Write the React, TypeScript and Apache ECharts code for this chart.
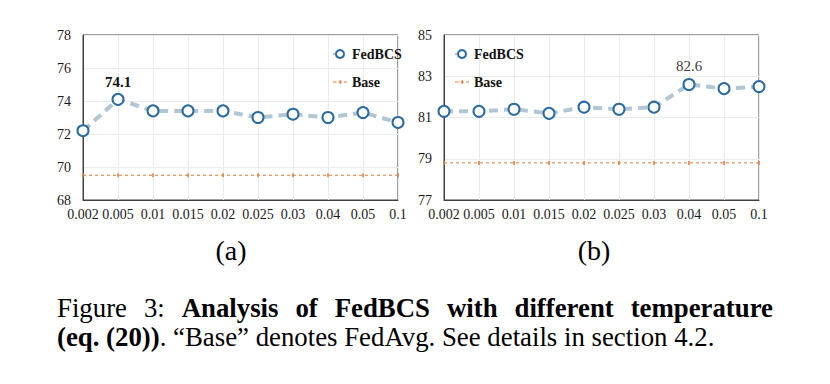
import React, { useEffect, useRef } from "react";
import * as echarts from "echarts";

const temperatures = ["0.002", "0.005", "0.01", "0.015", "0.02", "0.025", "0.03", "0.04", "0.05", "0.1"];
const fedbcsA = [72.2, 74.1, 73.4, 73.4, 73.4, 73.0, 73.2, 73.0, 73.3, 72.7];
const baseA = [69.5, 69.5, 69.5, 69.5, 69.5, 69.5, 69.5, 69.5, 69.5, 69.5];
const fedbcsB = [81.3, 81.3, 81.4, 81.2, 81.5, 81.4, 81.5, 82.6, 82.4, 82.5];
const baseB = [78.8, 78.8, 78.8, 78.8, 78.8, 78.8, 78.8, 78.8, 78.8, 78.8];
const yTicksA = [68, 70, 72, 74, 76, 78];
const yTicksB = [77, 79, 81, 83, 85];
const labelIndexA = 1;
const labelIndexB = 7;
const subCaptions = ["(a)", "(b)"];
const captionLine1 = [
  { t: "Figure", b: false },
  { t: "3:", b: false },
  { t: "Analysis", b: true },
  { t: "of", b: true },
  { t: "FedBCS", b: true },
  { t: "with", b: true },
  { t: "different", b: true },
  { t: "temperature", b: true },
];
const captionLine2Bold = "(eq. (20))";
const captionLine2Rest = ". \u201cBase\u201d denotes FedAvg. See details in section 4.2.";

const FONT = '"Liberation Serif", "Times New Roman", serif';
const CAP_SIZE = 26.8;

function measure(text: string, bold: boolean, size: number) {
  const c = document.createElement("canvas").getContext("2d")!;
  c.font = `${bold ? "bold " : ""}${size}px "Liberation Serif"`;
  return c.measureText(text).width;
}

const BASE_ICON = "path://M0,4.5h3.5v1h-3.5z M5.5,4.5h3.5v1h-3.5z M11,4.5h3v1h-3z M6.6,3h1.2v4h-1.2z";

export default function App() {
  const ref = useRef<HTMLDivElement>(null);
  useEffect(() => {
    if (!ref.current) return;
    const chart = echarts.init(ref.current, null, { renderer: "svg" });

    const grids = [
      { left: 83, top: 35, width: 315, height: 165 },
      { left: 444, top: 35, width: 315, height: 165 },
    ];

    const mkX = (i: number) => ({
      type: "category",
      gridIndex: i,
      data: temperatures,
      boundaryGap: false,
      axisLine: { show: true, lineStyle: { color: "#404040", width: 1 } },
      axisTick: { show: false },
      axisLabel: { color: "#1a1a1a", fontFamily: FONT, fontSize: 14, margin: 7, interval: 0 },
      splitLine: { show: true, lineStyle: { color: "#ebebeb", width: 1 } },
    });
    const mkY = (i: number, ticks: number[]) => ({
      type: "value",
      gridIndex: i,
      min: ticks[0],
      max: ticks[ticks.length - 1],
      interval: ticks[1] - ticks[0],
      axisLine: { show: true, lineStyle: { color: "#404040" } },
      axisTick: { show: false },
      axisLabel: { color: "#1a1a1a", fontFamily: FONT, fontSize: 14, margin: 12 },
      splitLine: { show: true, lineStyle: { color: "#ebebeb", width: 1 } },
    });

    const mkFed = (i: number, vals: number[], li: number, bold: boolean, dist: number) => ({
      name: "FedBCS",
      type: "line",
      xAxisIndex: i,
      yAxisIndex: i,
      data: vals.map((v, k) =>
        k === li
          ? {
              value: v,
              label: {
                show: true,
                position: "top",
                distance: dist,
                formatter: String(v),
                fontFamily: FONT,
                fontSize: 15,
                fontWeight: bold ? "bold" : "normal",
                color: bold ? "#111" : "#404040",
              },
            }
          : v
      ),
      symbol: "emptyCircle",
      symbolSize: 11,
      lineStyle: { color: "#b1c5d2", width: 4, type: [9, 6] },
      itemStyle: { color: "#2a6aa3", borderColor: "#2a6aa3", borderWidth: 3 },
      z: 3,
    });
    const mkBase = (i: number, vals: number[]) => ({
      name: "Base",
      type: "line",
      xAxisIndex: i,
      yAxisIndex: i,
      data: vals,
      symbol: "rect",
      symbolSize: [1.5, 4],
      lineStyle: { color: "#e07b3c", width: 1, type: [3, 3] },
      itemStyle: { color: "#e07b3c" },
      z: 2,
    });

    const mkLegend = (left: number) => ({
      left,
      top: 42,
      orient: "vertical",
      itemWidth: 14,
      itemHeight: 10,
      itemGap: 14,
      data: [{ name: "FedBCS" }, { name: "Base", icon: BASE_ICON, itemStyle: { color: "#e07b3c" } }],
      textStyle: { fontFamily: FONT, fontSize: 14, fontWeight: "bold", color: "#111" },
      selectedMode: false,
    });

    // caption line 1 justified
    const left = 57;
    const right = 773;
    const widths = captionLine1.map((w) => measure(w.t, w.b, CAP_SIZE));
    const total = widths.reduce((a, b) => a + b, 0);
    const gap = (right - left - total) / (captionLine1.length - 1);
    let x = left;
    const line1: any[] = captionLine1.map((w, i) => {
      const el = {
        type: "text",
        x,
        y: 308,
        style: {
          text: w.t,
          font: `${w.b ? "bold " : ""}${CAP_SIZE}px ${FONT}`,
          fill: "#000",
          verticalAlign: "middle",
          align: "left",
        },
      };
      x += widths[i] + gap;
      return el;
    });

    const graphic: any[] = [
      ...line1,
      {
        type: "text",
        x: left,
        y: 337,
        style: {
          text: `{b|${captionLine2Bold}}{r|${captionLine2Rest}}`,
          verticalAlign: "middle",
          align: "left",
          rich: {
            b: { fontFamily: FONT, fontSize: CAP_SIZE, fontWeight: "bold", fill: "#000", color: "#000" },
            r: { fontFamily: FONT, fontSize: CAP_SIZE, fill: "#000", color: "#000" },
          },
        },
      },
      {
        type: "text",
        x: 231,
        y: 250,
        style: { text: subCaptions[0], font: `28px ${FONT}`, fill: "#000", align: "center", verticalAlign: "middle" },
      },
      {
        type: "text",
        x: 594,
        y: 250,
        style: { text: subCaptions[1], font: `28px ${FONT}`, fill: "#000", align: "center", verticalAlign: "middle" },
      },
    ];

    chart.setOption({
      animation: false,
      backgroundColor: "#fff",
      grid: grids.map((g) => ({ ...g, show: true, borderColor: "#404040", borderWidth: 1, backgroundColor: "transparent" })),
      xAxis: [mkX(0), mkX(1)],
      yAxis: [mkY(0, yTicksA), mkY(1, yTicksB)],
      legend: [mkLegend(327), mkLegend(449)],
      series: [
        mkFed(0, fedbcsA, labelIndexA, true, 3),
        mkBase(0, baseA),
        mkFed(1, fedbcsB, labelIndexB, false, 5),
        mkBase(1, baseB),
      ],
      graphic,
    });
    return () => chart.dispose();
  }, []);
  return <div ref={ref} style={{ position: "fixed", left: 0, top: 0, width: 830, height: 384, background: "#fff" }} />;
}
